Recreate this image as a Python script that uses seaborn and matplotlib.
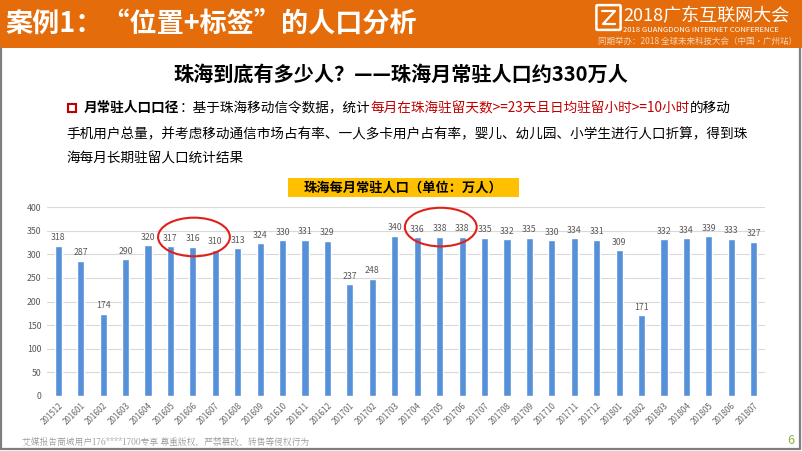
import matplotlib
matplotlib.use("Agg")
import matplotlib.pyplot as plt
from matplotlib.patches import Ellipse, Rectangle, FancyBboxPatch
from matplotlib.lines import Line2D
import pandas as pd
import seaborn as sns

# monthly resident population of Zhuhai (10k people)
months = ['201512', '201601', '201602', '201603', '201604', '201605', '201606', '201607',
          '201608', '201609', '201610', '201611', '201612', '201701', '201702', '201703',
          '201704', '201705', '201706', '201707', '201708', '201709', '201710', '201711',
          '201712', '201801', '201802', '201803', '201804', '201805', '201806', '201807']
population = [318, 287, 174, 290, 320, 317, 316, 310,
              313, 324, 330, 331, 329, 237, 248, 340,
              336, 338, 338, 335, 332, 335, 330, 334,
              331, 309, 171, 332, 334, 339, 333, 327]
yticks = [0, 50, 100, 150, 200, 250, 300, 350, 400]

# months circled in red on the slide
highlights = [['201605', '201606', '201607'], ['201704', '201705', '201706']]

header_title = '案例1：“位置+标签”的人口分析'
main_title = '珠海到底有多少人？——珠海月常驻人口约330万人'
chart_title = '珠海每月常驻人口（单位：万人）'
footer = '艾媒报告商城用户176****1700专享 尊重版权，严禁篡改、转售等侵权行为'

ORANGE = '#E46C0A'
BLUE = '#5590D8'
RED = '#C00000'

sns.set_theme(style='white')
plt.rcParams['font.family'] = ['Noto Sans CJK SC', 'DejaVu Sans']

W, H = 802, 451
fig = plt.figure(figsize=(W / 100, H / 100), dpi=100)

def fx(px):
    return px / W

def fy(py):
    return 1 - py / H

# header band
fig.add_artist(Rectangle((0, fy(48)), 1, 48 / H, transform=fig.transFigure,
                         facecolor=ORANGE, edgecolor='none', zorder=0))
fig.text(fx(5), fy(24), header_title, color='white', fontsize=19.5,
         fontweight='bold', va='center', ha='left')

# logo block
fig.add_artist(FancyBboxPatch((fx(598), fy(29)), fx(21), 23 / H, transform=fig.transFigure,
                              boxstyle='round,pad=0.002', facecolor='none',
                              edgecolor='white', lw=1.8))
fig.add_artist(Line2D([fx(602), fx(615), fx(603), fx(615)],
                      [fy(11), fy(11), fy(24), fy(24)], transform=fig.transFigure,
                      color='white', lw=1.6))
fig.text(fx(623), fy(16), '2018广东互联网大会', color='white', fontsize=13,
         va='center', ha='left')
fig.text(fx(623), fy(30), '2018 GUANGDONG INTERNET CONFERENCE', color='white',
         fontsize=5.5, va='center', ha='left')
fig.text(fx(598), fy(41), '同期举办：2018 全球未来科技大会（中国·广州站）', color='#F5D5B8',
         fontsize=6.1, va='center', ha='left')

# slide frame
for xs, ys in [([fx(1), fx(1)], [fy(48), fy(449)]),
               ([fx(800), fx(800)], [fy(48), fy(449)]),
               ([fx(1), fx(800)], [fy(449), fy(449)])]:
    fig.add_artist(Line2D(xs, ys, transform=fig.transFigure, color='#7F7F7F', lw=1.6))

# main title
fig.text(fx(401), fy(74), main_title, fontsize=14.5, fontweight='bold',
         ha='center', va='center', color='black')

# bullet paragraph
fig.add_artist(Rectangle((fx(68), fy(112)), fx(8), 8 / H, transform=fig.transFigure,
                         facecolor='none', edgecolor=RED, lw=1.5))
renderer = fig.canvas.get_renderer()
segments = [('月常驻人口口径', 'black', 'bold'),
            ('：基于珠海移动信令数据，统计', 'black', 'normal'),
            ('每月在珠海驻留天数>=23天且日均驻留小时>=10小时', RED, 'normal'),
            ('的移动', 'black', 'normal')]
x0 = fx(84)
for s, c, w in segments:
    t = fig.text(x0, fy(108), s, color=c, fontweight=w, fontsize=9.8, va='center', ha='left')
    bb = t.get_window_extent(renderer=renderer)
    x0 = bb.x1 / fig.bbox.width
fig.text(fx(66), fy(134), '手机用户总量，并考虑移动通信市场占有率、一人多卡用户占有率，婴儿、幼儿园、小学生进行人口折算，得到珠',
         fontsize=9.8, va='center', ha='left', color='black')
fig.text(fx(66), fy(159), '海每月长期驻留人口统计结果',
         fontsize=9.8, va='center', ha='left', color='black')

# chart title box
fig.add_artist(Rectangle((fx(288), fy(197)), fx(231), 19 / H, transform=fig.transFigure,
                         facecolor='#FFC000', edgecolor='none'))
fig.text(fx(403), fy(187.5), chart_title, fontsize=9.5, fontweight='bold',
         ha='center', va='center', color='black')

# bar chart
ax = fig.add_axes([fx(47), fy(395.7), fx(765 - 47), (395.7 - 207.3) / H])
df = pd.DataFrame({'month': months, 'population': population})
sns.barplot(data=df, x='month', y='population', color=BLUE, saturation=1,
            width=0.32, ax=ax, zorder=3)
ax.bar_label(ax.containers[0], padding=2.5, fontsize=6.3, color='#595959')
ax.set_ylim(0, 400)
ax.set_yticks(yticks)
ax.set_xlim(-0.5, len(months) - 0.5)
ax.grid(axis='y', color='#D9D9D9', lw=0.8, zorder=0)
ax.set_axisbelow(True)
for sp in ax.spines.values():
    sp.set_visible(False)
ax.set_xlabel('')
ax.set_ylabel('')
ax.tick_params(axis='y', length=0, pad=4, labelsize=6.3, labelcolor='#595959')
ax.tick_params(axis='x', length=0, pad=4, labelsize=5.8, labelcolor='#666666')
for lab in ax.get_xticklabels():
    lab.set_rotation(45)
    lab.set_ha('right')
    lab.set_rotation_mode('anchor')

for group in highlights:
    idx = [months.index(m) for m in group]
    vals = [population[i] for i in idx]
    cx = sum(idx) / len(idx) + 0.05
    cy = max(vals) + 20
    ax.add_patch(Ellipse((cx, cy), width=3.2, height=82, facecolor='none',
                         edgecolor='#E0201A', lw=1.5, clip_on=False, zorder=5))

# footer
fig.text(fx(22), fy(441), footer, fontsize=6.3, color='#9A9A9A', va='center', ha='left',
         family=['Noto Serif CJK SC', 'Noto Sans CJK SC', 'DejaVu Sans'])
fig.text(fx(791), fy(440), '6', fontsize=9, color='#8DB43C', va='center', ha='center')

fig.savefig('out.png', dpi=100)
